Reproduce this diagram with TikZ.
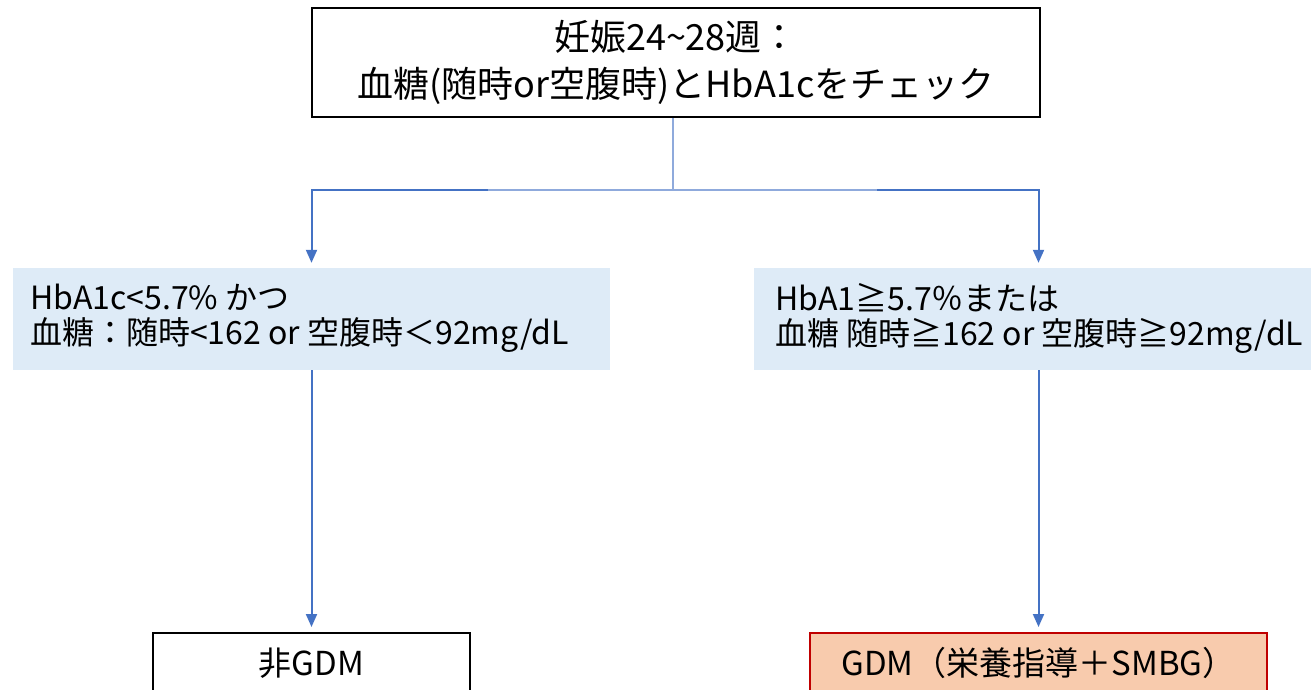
\documentclass[tikz,border=0pt]{standalone}
\usepackage{fontspec}
\setmainfont{Noto Sans CJK JP}
\usetikzlibrary{arrows.meta}
\definecolor{arrowblue}{HTML}{4472C4}
\definecolor{thinblue}{HTML}{8FAADC}
\definecolor{condfill}{HTML}{DEEBF7}
\definecolor{gdmfill}{HTML}{F8CBAD}
\definecolor{gdmborder}{HTML}{C00000}
\begin{document}
\begin{tikzpicture}[x=1pt,y=-1pt,
  topbox/.style={draw=black,line width=2pt,minimum width=728pt,minimum height=109pt,align=center,
    font=\fontsize{36}{47}\selectfont,inner sep=0pt},
  condbox/.style={fill=condfill,draw=none,minimum width=#1,minimum height=102pt,inner sep=0pt},
  condtext/.style={align=left,anchor=west,font=\fontsize{32}{35}\selectfont,inner sep=0pt},
  nongdm/.style={draw=black,line width=2pt,fill=white,minimum width=317pt,minimum height=60pt,anchor=north,
    font=\fontsize{33}{36}\selectfont,inner sep=0pt},
  gdmbox/.style={draw=gdmborder,line width=1.5pt,fill=gdmfill,minimum width=457pt,minimum height=60pt,anchor=north,
    font=\fontsize{33}{36}\selectfont,inner sep=0pt},
  thinline/.style={draw=thinblue,line width=1.2pt},
  arrowline/.style={draw=arrowblue,line width=2pt,-{Triangle[length=13pt,width=11pt]},shorten >=5pt},
]
\useasboundingbox (0,0) rectangle (1311,689);
\clip (0,0) rectangle (1311,689);

\node[topbox] (top) at (676,62.5) {妊娠24\textasciitilde 28週：\\血糖(随時or空腹時)とHbA1cをチェック};

\node[condbox=597pt] (L) at (311.5,319) {};
\node[condtext] (Lt) at (30,318) {HbA1c<5.7\% かつ\\血糖：随時<162 or 空腹時＜92mg/dL};

\node[condbox=600pt] (R) at (1054,319) {};
\node[condtext] (Rt) at (775,318) {HbA1≧5.7％または\\血糖 随時≧162 or 空腹時≧92mg/dL};

\node[nongdm] (N) at (311.5,632) {非GDM};
\node[gdmbox] (G) at (1038.5,632) {GDM（栄養指導＋SMBG）};

\coordinate (J) at (673,190);
\coordinate (JL) at (488,190);
\coordinate (JR) at (877,190);

\draw[thinline] (top.south -| J) -- (J);
\draw[thinline] (JL) -- (JR);
\draw[arrowline] (JL) -| (N.north |- L.north);
\draw[arrowline] (JR) -| (G.north |- R.north);

\draw[arrowline] (N.north |- L.south) -- (N.north);
\draw[arrowline] (G.north |- R.south) -- (G.north);
\end{tikzpicture}
\end{document}
